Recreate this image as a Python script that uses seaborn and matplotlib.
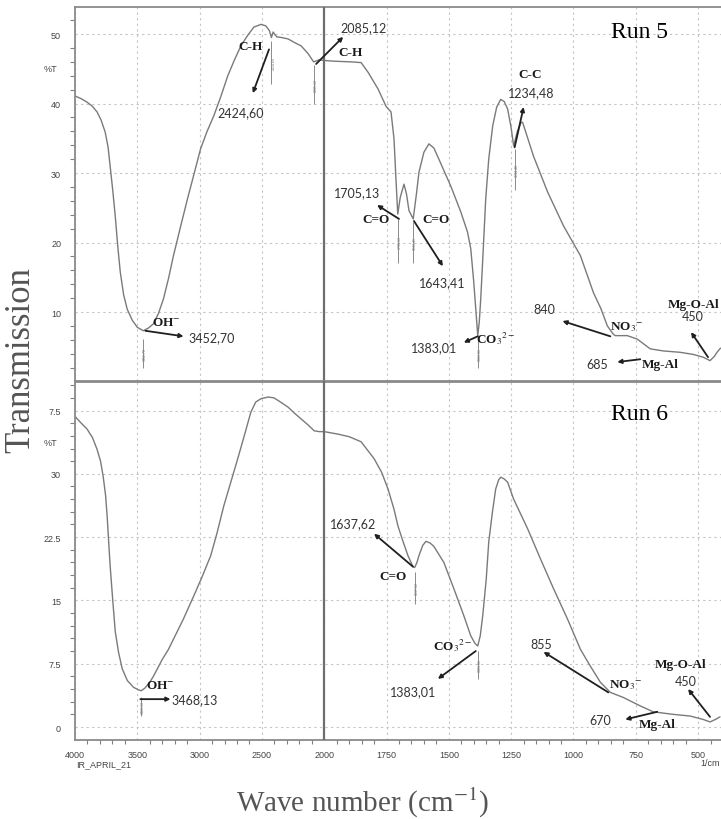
import numpy as np
import matplotlib
matplotlib.use('Agg')
import matplotlib.pyplot as plt
import seaborn as sns
from matplotlib.ticker import FixedLocator

sns.set_style('white')
plt.rcParams['font.family'] = ['Liberation Sans', 'DejaVu Sans']
plt.rcParams['mathtext.fontset'] = 'stix'

# spectra (wavenumber in 1/cm, transmission in %T)
run5_wn = [4000, 3950, 3903, 3860, 3823, 3790, 3758, 3735, 3718, 3697, 3677, 3657,
           3637, 3610, 3581, 3540, 3500, 3452, 3410, 3371, 3330, 3290, 3250, 3210,
           3150, 3097, 3040, 2992, 2940, 2887, 2830, 2774, 2720, 2669, 2615, 2565,
           2508, 2470, 2440, 2424, 2410, 2395, 2380, 2340, 2290, 2240, 2185, 2130,
           2085, 2040, 2000, 1960, 1892, 1852, 1824, 1784, 1752, 1732, 1720, 1712,
           1705, 1695, 1680, 1670, 1660, 1643, 1630, 1620, 1600, 1580, 1560, 1540,
           1492, 1452, 1425, 1412, 1400, 1390, 1384, 1378, 1372, 1362, 1352, 1340,
           1324, 1308, 1292, 1278, 1264, 1250, 1240, 1225, 1210, 1204, 1160, 1104,
           1040, 972, 920, 890, 864, 840, 832, 784, 744, 692, 640, 572, 520, 480,
           452, 435, 424, 410]
run5_t = [41.1, 40.7, 40.2, 39.6, 38.8, 37.6, 35.9, 33.8, 31.0, 27.5, 23.8, 19.5,
          15.8, 12.5, 10.4, 8.8, 7.8, 7.3, 7.7, 8.3, 9.8, 11.9, 14.8, 18.1,
          22.5, 26.3, 30.2, 33.5, 36.0, 38.2, 41.0, 44.0, 46.3, 48.3, 49.8, 51.0,
          51.4, 51.2, 50.5, 49.5, 50.3, 49.9, 49.6, 49.5, 49.3, 48.8, 48.3, 47.2,
          46.0, 46.3, 46.2, 46.1, 46.0, 45.9, 44.5, 42.1, 39.6, 38.8, 34.9, 29.0,
          24.1, 26.5, 28.4, 27.0, 24.6, 23.4, 27.0, 30.1, 33.0, 34.2, 33.6, 32.0,
          28.1, 24.4, 21.5, 19.1, 14.3, 9.5, 6.6, 8.5, 11.9, 19.0, 26.3, 32.0,
          36.8, 39.5, 40.6, 40.3, 39.2, 36.5, 33.9, 36.0, 37.3, 37.3, 32.4, 27.3,
          22.4, 18.1, 12.8, 10.5, 8.0, 6.8, 6.6, 6.6, 6.1, 4.7, 4.4, 4.2, 3.9, 3.5,
          3.0, 3.6, 4.2, 4.8]

run6_wn = [4000, 3950, 3903, 3860, 3823, 3795, 3774, 3755, 3742, 3730, 3718, 3697,
           3677, 3650, 3621, 3580, 3530, 3490, 3468, 3440, 3400, 3371, 3300, 3250,
           3210, 3130, 3048, 2980, 2911, 2860, 2806, 2750, 2694, 2640, 2589, 2550,
           2508, 2450, 2403, 2350, 2290, 2240, 2185, 2130, 2081, 2040, 2000, 1944,
           1900, 1852, 1800, 1770, 1744, 1720, 1704, 1684, 1664, 1644, 1637, 1628,
           1620, 1605, 1592, 1575, 1560, 1520, 1480, 1440, 1412, 1395, 1384, 1374,
           1364, 1350, 1340, 1325, 1312, 1300, 1292, 1278, 1264, 1240, 1184, 1132,
           1080, 1024, 972, 932, 892, 852, 800, 732, 680, 600, 532, 480, 452, 430, 412]
run6_t = [36.8, 36.0, 35.3, 34.3, 32.9, 31.5, 29.7, 27.5, 25.0, 22.0, 19.1, 15.0,
          11.3, 8.8, 6.9, 5.5, 4.7, 4.4, 4.3, 4.6, 5.3, 6.0, 8.0, 9.2,
          10.4, 12.8, 15.5, 17.8, 20.3, 23.0, 26.2, 29.0, 31.8, 34.6, 37.3, 38.5,
          38.9, 39.1, 39.0, 38.5, 37.9, 37.2, 36.5, 35.8, 35.1, 35.0, 35.0, 34.7,
          34.4, 33.8, 31.8, 30.2, 28.2, 25.8, 23.8, 22.0, 20.3, 19.0, 18.9, 19.5,
          20.3, 21.5, 22.0, 21.8, 21.4, 19.5, 16.4, 13.2, 10.8, 9.9, 9.6, 10.8,
          13.2, 17.5, 21.9, 25.5, 28.2, 29.3, 29.6, 29.4, 29.0, 27.0, 23.5, 19.9,
          16.4, 12.8, 9.2, 7.2, 5.3, 4.1, 3.5, 2.5, 1.8, 1.5, 1.3, 0.9, 0.6, 0.9, 1.2]

# instrument peak picks
run5_peaks = [3452.70, 2424.60, 2085.12, 1705.13, 1643.41, 1383.01, 1234.48]
run6_peaks = [3468.13, 1637.62, 1383.01]

x_major = [4000, 3500, 3000, 2500, 2000, 1750, 1500, 1250, 1000, 750, 500]
run5_yticks = [10, 20, 30, 40, 50]
run6_yticks = [0, 7.5, 15, 22.5, 30, 37.5]
# top label shows as "7.5" in the source picture
run6_yticklabels = ['0', '7.5', '15', '22.5', '30', '7.5']


def fwd(w):
    w = np.asarray(w, dtype=float)
    return np.where(w > 2000, 2000 + (w - 2000) / 2, w)


def inv(u):
    u = np.asarray(u, dtype=float)
    return np.where(u > 2000, 2000 + (u - 2000) * 2, u)


W, H = 721, 820
fig = plt.figure(figsize=(W / 100, H / 100), dpi=100)
ax1 = fig.add_axes([75 / W, 1 - 382 / H, 1 - 75 / W, (382 - 8) / H])
ax2 = fig.add_axes([75 / W, 1 - 741 / H, 1 - 75 / W, (741 - 382) / H])

line_col = '#7a7a7a'
sns.lineplot(x=run5_wn, y=run5_t, ax=ax1, color=line_col, lw=1.0, sort=False, estimator=None)
sns.lineplot(x=run6_wn, y=run6_t, ax=ax2, color=line_col, lw=1.0, sort=False, estimator=None)

minor_x = list(range(4000, 2000, -100)) + list(range(2000, 400, -50))
for ax in (ax1, ax2):
    ax.set_xscale('function', functions=(fwd, inv))
    ax.set_xlim(4000, 408)
    ax.xaxis.set_major_locator(FixedLocator(x_major))
    ax.xaxis.set_minor_locator(FixedLocator(minor_x))
    ax.set_xlabel('')
    ax.set_ylabel('')
    ax.grid(True, which='major', ls=(0, (2, 3)), color='#c4c4c4', lw=0.8)
    ax.axvline(2000, color='#6e6e6e', lw=1.6, zorder=3)
    ax.spines['right'].set_visible(False)
    for s in ('left', 'top', 'bottom'):
        ax.spines[s].set_color('#8a8a8a')
        ax.spines[s].set_linewidth(1.3)
    ax.tick_params(axis='y', which='major', direction='out', length=7, width=1,
                   color='#808080', labelsize=6.5, labelcolor='#444444', pad=3)
    ax.tick_params(axis='y', which='minor', direction='out', length=3.5, width=0.8,
                   color='#808080', left=True)

ax1.set_ylim(0.07, 53.9)
ax1.set_yticks(run5_yticks)
ax1.yaxis.set_minor_locator(FixedLocator(np.arange(2, 54, 2)))
ax1.spines['bottom'].set_visible(False)
ax1.tick_params(axis='x', which='both', bottom=False, labelbottom=False)

ax2.set_ylim(-1.54, 41.0)
ax2.set_yticks(run6_yticks)
ax2.set_yticklabels(run6_yticklabels)
ax2.yaxis.set_minor_locator(FixedLocator(np.arange(1.5, 41, 1.5)))
ax2.spines['top'].set_linewidth(2.0)
ax2.tick_params(axis='x', which='major', direction='out', length=5, width=1,
                color='#808080', labelsize=6.5, labelcolor='#444444', pad=2)
ax2.tick_params(axis='x', which='minor', direction='out', length=3, width=0.8,
                color='#808080', bottom=True)

ax1.text(-0.027, 45, '%T', transform=ax1.get_yaxis_transform(), ha='right', va='center',
         fontsize=6.5, color='#444444')
ax2.text(-0.027, 33.75, '%T', transform=ax2.get_yaxis_transform(), ha='right', va='center',
         fontsize=6.5, color='#444444')
fig.text(76 / W, 1 - 765 / H, 'IR_APRIL_21', fontsize=6.5, color='#444444', va='center')
fig.text(720 / W, 1 - 764 / H, '1/cm', fontsize=6.5, color='#444444', ha='right', va='center')

# peak pick markers (thin vertical stubs + tiny rotated values)
stubs5 = [(6.1, 2.0), (49.0, 42.8), (45.5, 40.0), (23.4, 17.0), (22.9, 17.0), (6.0, 2.0), (33.5, 27.5)]
for p, (a, b) in zip(run5_peaks, stubs5):
    ax1.vlines(p, b, a, color='#8a8a8a', lw=0.7)
    ax1.text(p, (a + b) / 2, f'{p:.2f}', rotation=90, fontsize=2.6, color='#777777',
             ha='left', va='center')
stubs6 = [(3.6, 1.3), (18.4, 14.6), (9.0, 5.7)]
for p, (a, b) in zip(run6_peaks, stubs6):
    ax2.vlines(p, b, a, color='#8a8a8a', lw=0.7)
    ax2.text(p, (a + b) / 2, f'{p:.2f}', rotation=90, fontsize=2.6, color='#777777',
             ha='left', va='center')

num_kw = dict(family=['Lato', 'DejaVu Sans'], fontsize=9, color='#333333', ha='center', va='center')
grp_kw = dict(family=['Liberation Serif', 'DejaVu Serif'], fontsize=9.5, fontweight='bold',
              color='#1a1a1a', ha='center', va='center')
arr_kw = dict(arrowstyle='-|>', color='#1f1f1f', lw=1.3, mutation_scale=6, shrinkA=0, shrinkB=0)


def arrow(ax, start, end):
    ax.annotate('', xy=end, xytext=start, arrowprops=arr_kw)


# Run 5 labels
ax1.text(2589, 48.3, 'C-H', **grp_kw)
ax1.text(2669, 38.8, '2424,60', **num_kw)
arrow(ax1, (2443, 47.8), (2573, 41.5))
ax1.text(1844, 51.0, '2085,12', **num_kw)
arrow(ax1, (2065, 45.7), (1924, 49.6))
ax1.text(1894, 47.4, 'C-H', **grp_kw)
ax1.text(1868, 27.3, '1705,13', **num_kw)
arrow(ax1, (1700, 23.4), (1788, 25.4))
ax1.text(1792, 23.4, 'C=O', **grp_kw)
ax1.text(1552, 23.4, 'C=O', **grp_kw)
arrow(ax1, (1640, 23.1), (1524, 16.6))
ax1.text(1528, 14.3, '1643,41', **num_kw)
ax1.text(1172, 44.2, 'C-C', **grp_kw)
ax1.text(1168, 41.7, '1234,48', **num_kw)
arrow(ax1, (1236, 33.7), (1200, 39.5))
ax1.text(1560, 5.0, '1383,01', **num_kw)
arrow(ax1, (1384, 6.5), (1440, 5.6))
ax1.text(1312, 6.3, r'CO$_3$$^{2-}$', **grp_kw)
ax1.text(1116, 10.4, '840', **num_kw)
arrow(ax1, (852, 6.5), (1044, 8.7))
ax1.text(788, 8.0, r'NO$_3$$^{-}$', **grp_kw)
ax1.text(520, 11.2, 'Mg-O-Al', **grp_kw)
ax1.text(520, 9.4, '450', **num_kw)
arrow(ax1, (460, 3.5), (528, 7.1))
ax1.text(904, 2.5, '685', **num_kw)
arrow(ax1, (732, 3.2), (824, 2.8))
ax1.text(652, 2.5, 'Mg-Al', **grp_kw)
ax1.text(3266, 8.5, r'OH$^{-}$', **grp_kw)
ax1.text(2903, 6.4, '3452,70', **num_kw)
arrow(ax1, (3435, 7.3), (3129, 6.5))
ax1.text(736, 50.4, 'Run 5', family=['Liberation Serif', 'DejaVu Serif'], fontsize=17,
         color='black', ha='center', va='center')

# Run 6 labels
ax2.text(1884, 24.1, '1637,62', **num_kw)
arrow(ax2, (1644, 19.0), (1800, 22.9))
ax2.text(1724, 17.9, 'C=O', **grp_kw)
ax2.text(1484, 9.8, r'CO$_3$$^{2-}$', **grp_kw)
ax2.text(1644, 4.3, '1383,01', **num_kw)
arrow(ax2, (1392, 9.0), (1544, 5.7))
ax2.text(1128, 9.8, '855', **num_kw)
arrow(ax2, (860, 4.1), (1120, 8.9))
ax2.text(792, 5.1, r'NO$_3$$^{-}$', **grp_kw)
ax2.text(572, 7.5, 'Mg-O-Al', **grp_kw)
ax2.text(548, 5.5, '450', **num_kw)
arrow(ax2, (452, 1.2), (540, 4.5))
ax2.text(892, 0.8, '670', **num_kw)
arrow(ax2, (664, 1.8), (792, 0.9))
ax2.text(664, 0.4, 'Mg-Al', **grp_kw)
ax2.text(3314, 5.0, r'OH$^{-}$', **grp_kw)
ax2.text(3040, 3.3, '3468,13', **num_kw)
arrow(ax2, (3476, 3.3), (3234, 3.3))
ax2.text(736, 37.1, 'Run 6', family=['Liberation Serif', 'DejaVu Serif'], fontsize=17,
         color='black', ha='center', va='center')

serif = ['Liberation Serif', 'DejaVu Serif']
fig.text(21 / W, 1 - 360 / H, 'Transmission', rotation=90, family=serif, fontsize=25,
         color='#555555', ha='center', va='center')
fig.text(363 / W, 1 - 803 / H, r'Wave number (cm$^{-1}$)', family=serif, fontsize=21,
         color='#555555', ha='center', va='center')

fig.savefig('out.png', dpi=100)
